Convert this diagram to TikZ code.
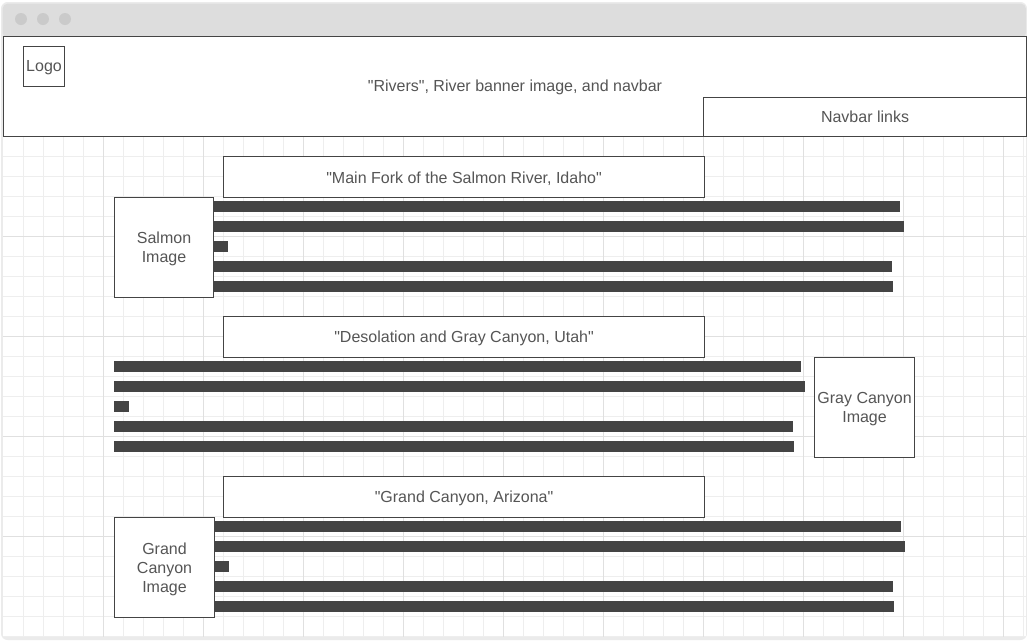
\documentclass[tikz,border=0pt]{standalone}
\usepackage{fontspec}
\setmainfont{Liberation Sans}[Ligatures=TeXOff]
\definecolor{txt}{HTML}{555555}
\definecolor{stroke}{HTML}{444444}
\definecolor{barc}{HTML}{444444}
\definecolor{minorg}{HTML}{EEEEEE}
\definecolor{majorg}{HTML}{E0E0E0}
\definecolor{chrome}{HTML}{DDDDDD}
\definecolor{frame}{HTML}{EBEBEB}
\definecolor{dotc}{HTML}{CACACA}
\tikzset{
  box/.style={draw=stroke, line width=0.8pt, fill=white, inner sep=0pt, anchor=north west},
  lbl/.style={text=txt, font=\fontsize{12}{14.4}\selectfont, inner sep=0pt, align=center},
  intext/.style={lbl, yshift=-1.2pt},
  bar/.style={fill=barc},
}
\begin{document}
\begin{tikzpicture}[x=0.75pt,y=-0.75pt]
\useasboundingbox (0,0) rectangle (1027,640);
\fill[white] (0,0) rectangle (1027,640);
% window chrome
\fill[frame, rounded corners=5pt] (1,2) rectangle (1027,640);
\fill[chrome, rounded corners=4pt] (2.5,3.5) rectangle (1026,38);
\fill[white] (3,36) rectangle (1026,637);
\foreach \cx in {21,43,65} \fill[dotc] (\cx,19) circle (6);
% grid
\foreach \k in {1,...,51} {
  \pgfmathsetmacro\gx{3+20*\k}
  \draw[minorg, line width=0.75pt] (\gx,136) -- (\gx,637);
}
\foreach \k in {1,...,25} {
  \pgfmathsetmacro\gy{136.7+20*\k}
  \draw[minorg, line width=0.75pt] (3,\gy) -- (1026,\gy);
}
\foreach \gx in {103,203,...,1003} \draw[majorg, line width=0.75pt] (\gx,136) -- (\gx,637);
\foreach \gy in {236.7,336.7,436.7,536.7} \draw[majorg, line width=0.75pt] (3,\gy) -- (1026,\gy);
% header
\node[box, minimum width=1023*0.75pt, minimum height=100*0.75pt] (header) at (3,36) {};
\node[lbl] (banner) at (515,87) {"Rivers", River banner image, and navbar};
\node[box, minimum width=41*0.75pt, minimum height=40*0.75pt] (logo) at (23,46) {};
\node[intext] (logot) at (logo.center) {Logo};
\node[box, minimum width=323*0.75pt, minimum height=38.5*0.75pt] (nav) at (703,97) {};
\node[lbl] (navt) at (nav.center) {Navbar links};
% section 1
\node[box, minimum width=481*0.75pt, minimum height=41*0.75pt] (t1) at (223,156) {};
\node[intext] (t1t) at (t1.center) {"Main Fork of the Salmon River, Idaho"};
\node[box, minimum width=99*0.75pt, minimum height=100*0.75pt] (i1) at (114,197) {};
\node[intext] (i1t) at (i1.center) {Salmon\\Image};
\fill[bar] (213,201) rectangle (900,211.7);
\fill[bar] (213,221) rectangle (904,231.7);
\fill[bar] (213,241) rectangle (228,251.7);
\fill[bar] (213,261) rectangle (892,271.7);
\fill[bar] (213,281) rectangle (893,291.7);
% section 2
\node[box, minimum width=481*0.75pt, minimum height=41*0.75pt] (t2) at (223,316) {};
\node[intext] (t2t) at (t2.center) {"Desolation and Gray Canyon, Utah"};
\node[box, minimum width=100*0.75pt, minimum height=100*0.75pt] (i2) at (814,357) {};
\node[intext] (i2t) at (i2.center) {Gray Canyon\\Image};
\fill[bar] (114,361) rectangle (801,371.7);
\fill[bar] (114,381) rectangle (805,391.7);
\fill[bar] (114,401) rectangle (129,411.7);
\fill[bar] (114,421) rectangle (793,431.7);
\fill[bar] (114,441) rectangle (794,451.7);
% section 3
\node[box, minimum width=481*0.75pt, minimum height=41*0.75pt] (t3) at (223,476) {};
\node[intext] (t3t) at (t3.center) {"Grand Canyon, Arizona"};
\node[box, minimum width=100*0.75pt, minimum height=100*0.75pt] (i3) at (114,517) {};
\node[intext] (i3t) at (i3.center) {Grand\\Canyon\\Image};
\fill[bar] (214,521) rectangle (901,531.7);
\fill[bar] (214,541) rectangle (905,551.7);
\fill[bar] (214,561) rectangle (229,571.7);
\fill[bar] (214,581) rectangle (893,591.7);
\fill[bar] (214,601) rectangle (894,611.7);
\end{tikzpicture}
\end{document}
